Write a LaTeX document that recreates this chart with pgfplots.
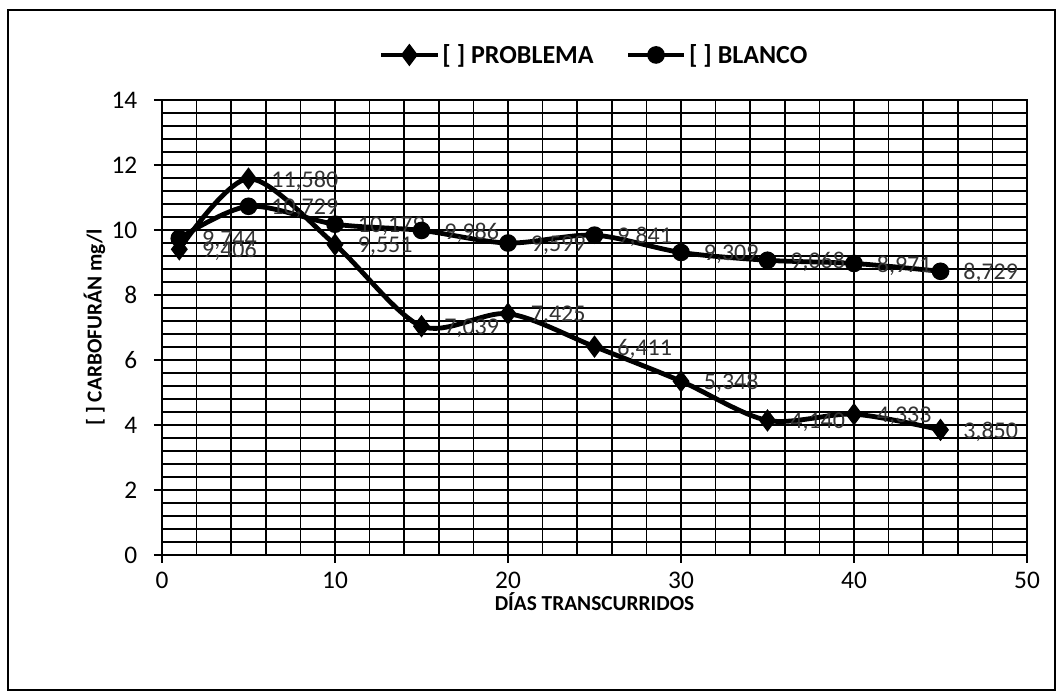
\documentclass[border=0pt]{standalone}
\usepackage{pgfplots}
\pgfplotsset{compat=1.18}
\usepackage{fontspec}
\setmainfont{Carlito}
\begin{document}
\begin{tikzpicture}
\useasboundingbox (0,0) rectangle (797.25pt,524.25pt);
\draw[line width=1.2pt] (6pt,6.75pt) rectangle (791.25pt,516.75pt);
\begin{axis}[
  at={(121.5pt,108pt)}, anchor=origin,
  scale only axis, width=648.75pt, height=341.25pt,
  xmin=0, xmax=50, ymin=0, ymax=14,
  xtick={0,10,...,50}, ytick={0,2,...,14},
  minor x tick num=4, minor y tick num=4,
  grid=both,
  major grid style={black, line width=1.2pt},
  minor grid style={black, line width=1.1pt},
  axis line style={black, line width=1.2pt},
  tick align=outside, major tick length=6pt, minor tick length=0pt,
  tick style={black, line width=1.2pt},
  xtick pos=bottom, ytick pos=left,
  /pgf/number format/assume math mode=true,
  ticklabel style={font=\fontsize{19}{22}\selectfont, text=black},
  xticklabel style={yshift=-3pt},
  yticklabel style={xshift=-9pt},
  xlabel={\textbf{DÍAS TRANSCURRIDOS}},
  ylabel={\textbf{[ ] CARBOFURÁN mg/l}},
  label style={font=\fontsize{16}{19}\selectfont},
  xlabel style={yshift=4pt},
  ylabel style={yshift=-2pt},
  legend columns=2,
  legend style={draw=none, fill=none, at={(0.5,1.099)}, anchor=center,
    font=\bfseries\fontsize{19.5}{22}\selectfont, /tikz/every even column/.append style={column sep=22pt}},
  legend image code/.code={\draw[#1,mark repeat=2,mark phase=2] plot coordinates {(0pt,0pt) (21pt,0pt) (42pt,0pt)};},
  nodes near coords={\pgfmathprintnumber[fixed,fixed zerofill,precision=3,use comma,assume math mode=true]{\pgfplotspointmeta}},
  every node near coord/.append style={anchor=west, xshift=12pt, yshift=-1.5pt, font=\fontsize{18}{21}\selectfont, text=black!80},
]
\addplot[black, line width=3.6pt, smooth, tension=0.5, mark=diamond*, mark size=5.5pt, mark options={solid}] coordinates {
  (1,9.406) (5,11.580) (10,9.551) (15,7.039) (20,7.425) (25,6.411) (30,5.348) (35,4.140) (40,4.333) (45,3.850)};
\addlegendentry{[ ] PROBLEMA}
\addplot[black, line width=3.6pt, smooth, tension=0.5, mark=*, mark size=4.8pt, mark options={solid}] coordinates {
  (1,9.744) (5,10.729) (10,10.179) (15,9.986) (20,9.599) (25,9.841) (30,9.309) (35,9.068) (40,8.971) (45,8.729)};
\addlegendentry{[ ] BLANCO}
\end{axis}
\end{tikzpicture}
\end{document}
